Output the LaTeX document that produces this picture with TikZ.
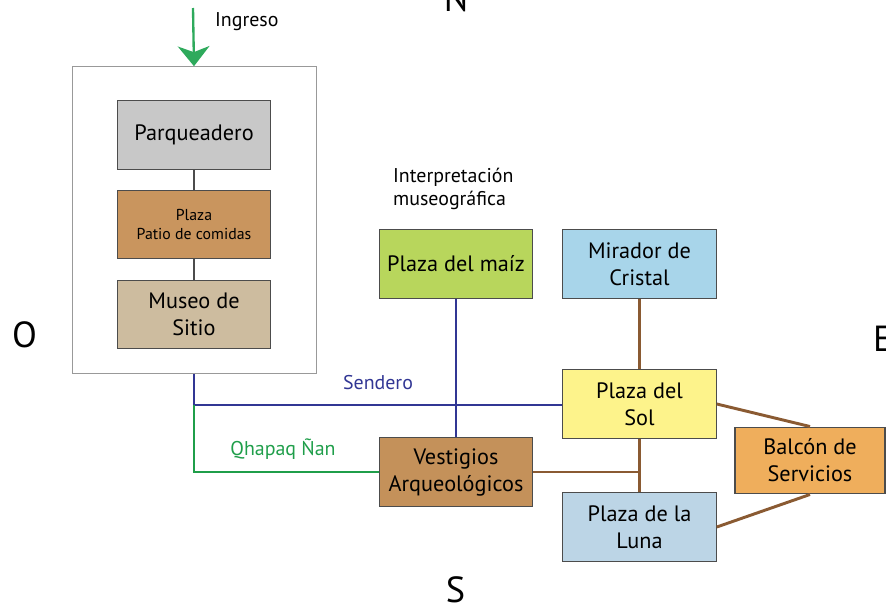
\documentclass[tikz,border=0pt]{standalone}
\usepackage{fontspec}
\setmainfont{PT Sans}
\usepackage{tikz}
\usetikzlibrary{arrows.meta, positioning}
\definecolor{colPark}{RGB}{200,200,200}
\definecolor{colFood}{RGB}{201,149,94}
\definecolor{colMuseo}{RGB}{205,188,159}
\definecolor{colMaiz}{RGB}{184,214,92}
\definecolor{colMirador}{RGB}{168,213,234}
\definecolor{colSol}{RGB}{253,243,139}
\definecolor{colLuna}{RGB}{188,213,230}
\definecolor{colBalcon}{RGB}{239,174,92}
\definecolor{colVest}{RGB}{196,145,90}
\definecolor{colSendero}{RGB}{49,54,148}
\definecolor{colQhapaq}{RGB}{31,158,74}
\definecolor{colIngreso}{RGB}{46,170,92}
\definecolor{colPath}{RGB}{138,90,50}

\begin{document}
\begin{tikzpicture}[
  x=0.03cm, y=-0.03cm,
  zone/.style={rectangle, draw=black!70, line width=1.1pt, minimum width=4.6cm,
               minimum height=2.05cm, align=center, inner sep=2pt,
               font=\fontsize{19}{23}\selectfont},
  lbl/.style={font=\fontsize{17}{20}\selectfont, align=left},
  cardinal/.style={font=\fontsize{31}{34}\selectfont, inner sep=0pt},
  sendero/.style={colSendero, line width=2.5pt},
  qhapaq/.style={colQhapaq, line width=2.5pt},
  camino/.style={colPath, line width=2.5pt},
]
\useasboundingbox (0,0) rectangle (886,608);
\clip (0,0) rectangle (886,608);

% puntos cardinales
\node[cardinal, anchor=south] (norte) at (456,12) {N};
\node[cardinal] (oeste) at (24.5,335) {O};
\node[cardinal, anchor=west] (este) at (873,339) {E};
\node[cardinal] (sur) at (455.5,590) {S};

% bloque de ingreso
\node[draw=black!40, line width=0.8pt, minimum width=7.3cm, minimum height=9.2cm] (bloque) at (194.5,220) {};
\node[zone, fill=colPark] (parq) at (194,135) {Parqueadero};
\node[zone, fill=colFood, font=\fontsize{13.5}{17}\selectfont] (comidas) at (194,224.5) {Plaza\\Patio de comidas};
\node[zone, fill=colMuseo] (museo) at (194,314.5) {Museo de\\Sitio};
\draw[black!70, line width=1pt] (parq) -- (comidas);
\draw[black!70, line width=1pt] (comidas) -- (museo);

\coordinate (entrada) at (193,8);
\draw[colIngreso, line width=2pt, -{Stealth[width=27pt, length=17pt, inset=5pt]}] (entrada) -- ([xshift=-0.5*0.03cm]bloque.north);
\node[lbl, anchor=west] (ingreso) at (211,22) {Ingreso};

% zonas del recorrido
\node[zone, fill=colMaiz] (maiz) at (456,264) {Plaza del maíz};
\node[lbl, anchor=south west] (interp) at (389,214) {Interpretación\\museográfica};
\node[zone, fill=colVest] (vestigios) at (456,472) {Vestigios\\Arqueológicos};
\node[zone, fill=colMirador] (mirador) at (639.5,264) {Mirador de\\Cristal};
\node[zone, fill=colSol] (sol) at (639.5,404) {Plaza del\\Sol};
\node[zone, fill=colLuna] (luna) at (639.5,527) {Plaza de la\\Luna};
\node[zone, fill=colBalcon, minimum width=4.5cm, minimum height=2cm] (balcon) at (810,460.5) {Balcón de\\Servicios};

% senderos
\coordinate (cruce) at (194,405);
\coordinate (qcodo) at (194,472);
\coordinate (vcruce) at (639.5,472);
\draw[sendero] (bloque.south -| museo) -- (cruce) -- (sol.west |- cruce);
\draw[sendero] (maiz) -- (vestigios);
\node[lbl, text=colSendero] (sendlbl) at (378,383) {Sendero};
\draw[qhapaq] (cruce) -- (qcodo) -- (vestigios.west);
\node[lbl, text=colQhapaq] (qlbl) at (283,449) {Qhapaq Ñan};

\draw[camino] (mirador) -- (sol);
\draw[camino] (sol) -- (luna);
\draw[camino] (vestigios.east) -- (vcruce);
\draw[camino] (sol.east) -- (balcon.north);
\draw[camino] (luna.east) -- (balcon.south);
\end{tikzpicture}
\end{document}
